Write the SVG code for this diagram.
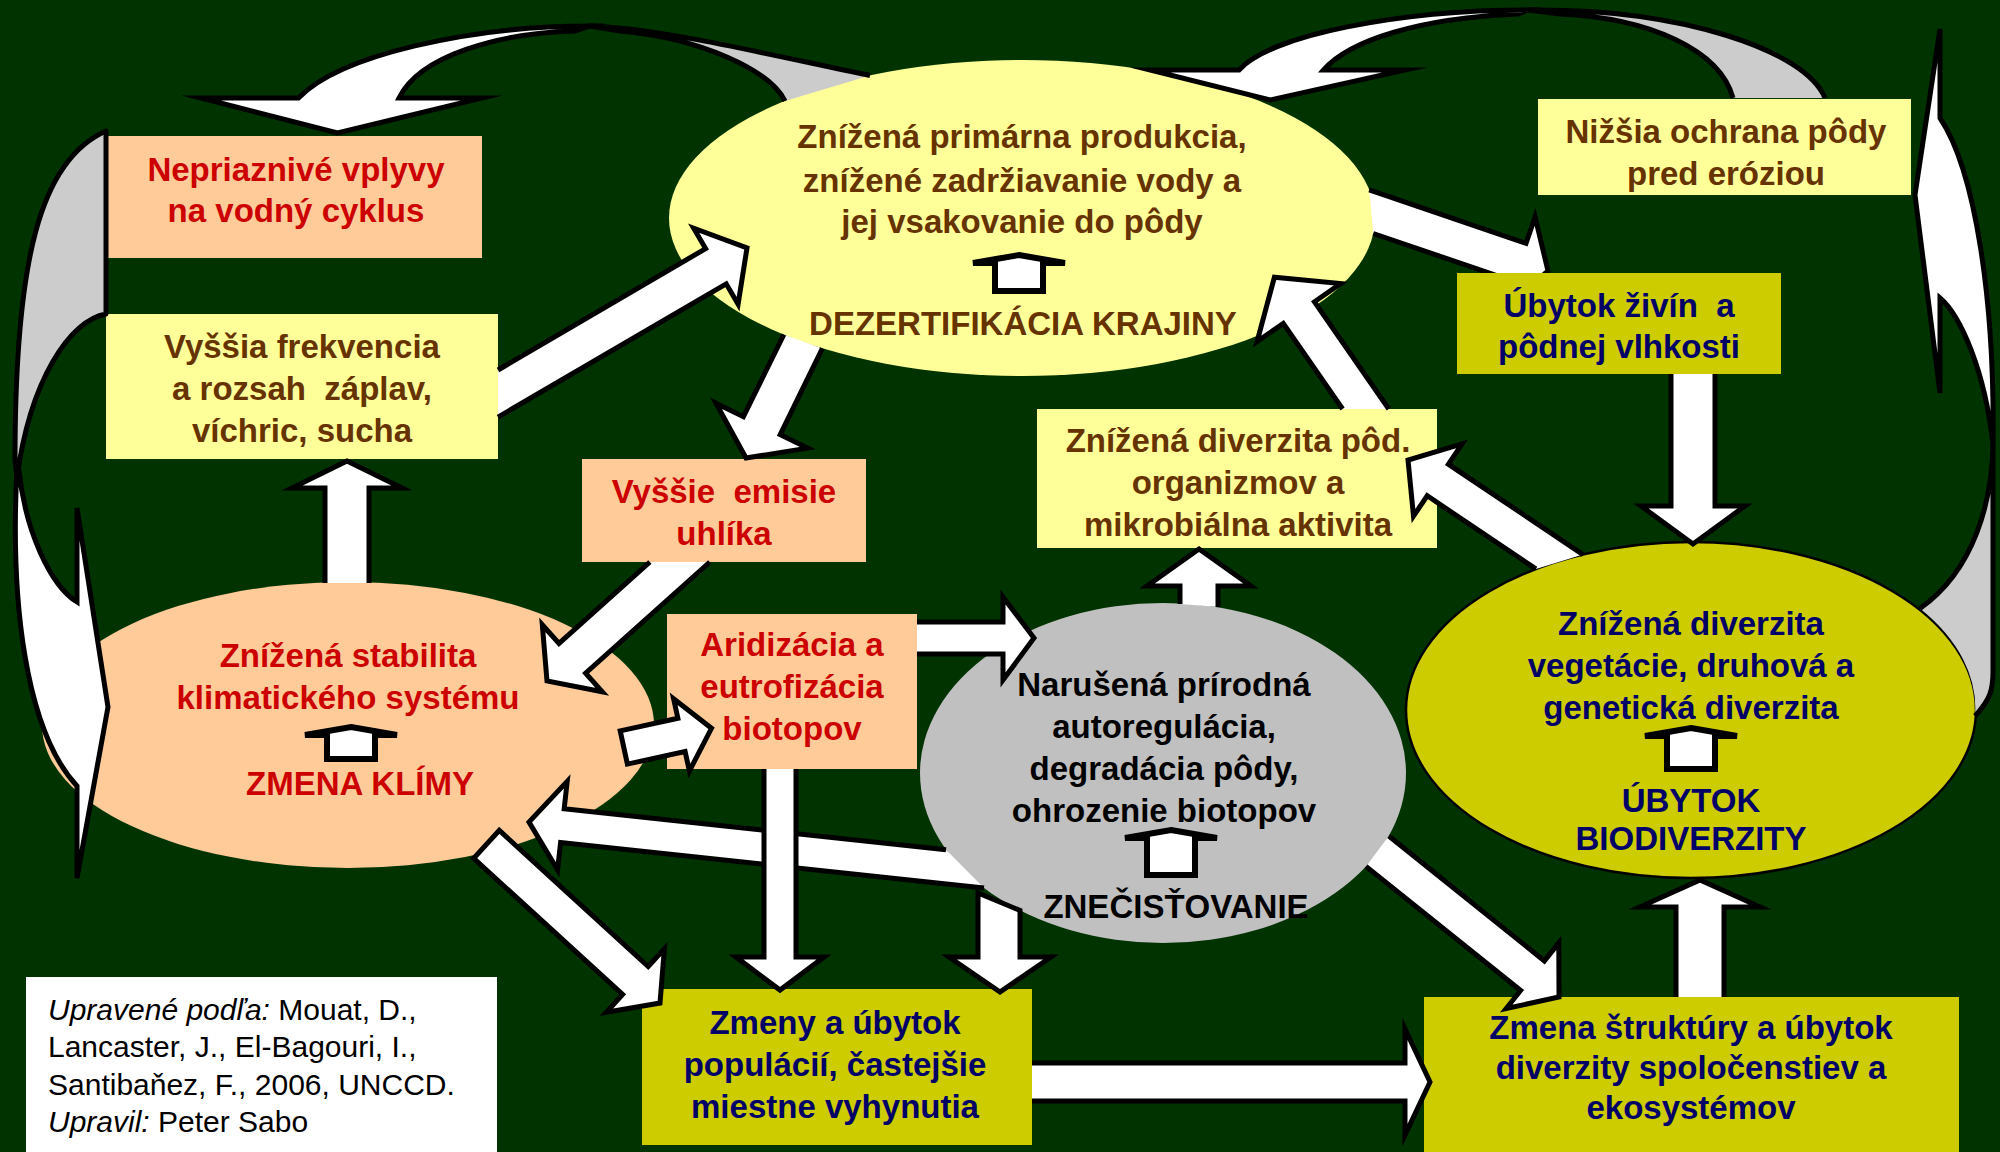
<svg xmlns="http://www.w3.org/2000/svg" width="2000" height="1152" viewBox="0 0 2000 1152">
<defs>
<style>
.t{font-family:"Liberation Sans",Arial,sans-serif;font-weight:bold;font-size:33px;text-anchor:middle}
.red{fill:#CC0000}.brown{fill:#663300}.navy{fill:#000066}.blk{fill:#000}
.cite{font-family:"Liberation Sans",Arial,sans-serif;font-size:30px;fill:#000}
.arr{fill:#fff;stroke:#000;stroke-width:5;stroke-linejoin:miter;stroke-miterlimit:10}
.bandfill{fill:#CCCCCC;stroke:none}
.band{fill:#CCCCCC;stroke:#000;stroke-width:5;stroke-linejoin:round}
.edge{fill:none;stroke:#000;stroke-width:5;stroke-linejoin:round}
.icon{fill:#fff;stroke:#000;stroke-width:6;stroke-linejoin:miter}
.peach{fill:#FFCC99}.lyel{fill:#FFFF99}.olive{fill:#CCCC00}
</style>
<clipPath id="clipR"><rect x="1300" y="0" width="400" height="273"/></clipPath>
</defs>
<rect x="0" y="0" width="2000" height="1152" fill="#003300"/>

<g id="node-nepriaznive">
<rect class="peach" x="108" y="136" width="374" height="122"/>
<text class="t red" x="296" y="181">Nepriaznivé vplyvy</text>
<text class="t red" x="296" y="222">na vodný cyklus</text>
</g>

<g id="node-vyssia-frekvencia">
<rect class="lyel" x="106" y="314" width="392" height="145"/>
<text class="t brown" x="302" y="358">Vyššia frekvencia</text>
<text class="t brown" x="302" y="400" xml:space="preserve">a rozsah  záplav,</text>
<text class="t brown" x="302" y="442">víchric, sucha</text>
</g>

<g id="node-dezertifikacia">
<ellipse class="lyel" cx="1022" cy="218" rx="353" ry="158"/>
<text class="t brown" x="1022" y="148">Znížená primárna produkcia,</text>
<text class="t brown" x="1022" y="192">znížené zadržiavanie vody a</text>
<text class="t brown" x="1022" y="233">jej vsakovanie do pôdy</text>
<path class="icon" transform="translate(1019,252)" d="M0,3 L46,11 L24,11 L24,39 L-24,39 L-24,11 L-46,11 Z"/>
<text class="t brown" x="1023" y="335">DEZERTIFIKÁCIA KRAJINY</text>
</g>

<g id="node-nizsia-ochrana">
<rect class="lyel" x="1538" y="99" width="373" height="96"/>
<text class="t brown" x="1726" y="143">Nižšia ochrana pôdy</text>
<text class="t brown" x="1726" y="185">pred eróziou</text>
</g>

<g id="node-ubytok-zivin">
<rect class="olive" x="1457" y="273" width="324" height="101"/>
<text class="t navy" x="1619" y="317" xml:space="preserve">Úbytok živín  a</text>
<text class="t navy" x="1619" y="358">pôdnej vlhkosti</text>
</g>

<g id="node-vyssie-emisie">
<rect class="peach" x="582" y="459" width="284" height="103"/>
<text class="t red" x="724" y="503" xml:space="preserve">Vyššie  emisie</text>
<text class="t red" x="724" y="545">uhlíka</text>
</g>

<g id="node-diverzita-pod">
<rect class="lyel" x="1037" y="409" width="400" height="139"/>
<text class="t brown" x="1238" y="452">Znížená diverzita pôd.</text>
<text class="t brown" x="1238" y="494">organizmov a</text>
<text class="t brown" x="1238" y="536">mikrobiálna aktivita</text>
</g>

<g id="node-zmena-klimy">
<ellipse class="peach" cx="348" cy="725" rx="306" ry="143"/>
<text class="t red" x="348" y="667">Znížená stabilita</text>
<text class="t red" x="348" y="709">klimatického systému</text>
<path class="icon" transform="translate(351,724)" d="M0,3 L46,11 L24,11 L24,35 L-24,35 L-24,11 L-46,11 Z"/>
<text class="t red" x="360" y="795">ZMENA KLÍMY</text>
</g>

<g id="node-aridizacia">
<rect class="peach" x="667" y="614" width="250" height="155"/>
<text class="t red" x="792" y="656">Aridizácia a</text>
<text class="t red" x="792" y="698">eutrofizácia</text>
<text class="t red" x="792" y="740">biotopov</text>
</g>

<g id="node-znecistovanie">
<ellipse cx="1163" cy="773" rx="243" ry="170" fill="#C0C0C0"/>
<text class="t blk" x="1164" y="696">Narušená prírodná</text>
<text class="t blk" x="1164" y="738">autoregulácia,</text>
<text class="t blk" x="1164" y="780">degradácia pôdy,</text>
<text class="t blk" x="1164" y="822">ohrozenie biotopov</text>
<path class="icon" transform="translate(1171,827)" d="M0,3 L46,11 L24,11 L24,48 L-24,48 L-24,11 L-46,11 Z"/>
<text class="t blk" x="1176" y="918">ZNEČISŤOVANIE</text>
</g>

<g id="node-ubytok-biodiverzity">
<ellipse class="olive" cx="1691" cy="710" rx="285" ry="168" stroke="#000" stroke-width="2.5"/>
<text class="t navy" x="1691" y="635">Znížená diverzita</text>
<text class="t navy" x="1691" y="677">vegetácie, druhová a</text>
<text class="t navy" x="1691" y="719">genetická diverzita</text>
<path class="icon" transform="translate(1691,725)" d="M0,3 L46,11 L24,11 L24,44 L-24,44 L-24,11 L-46,11 Z"/>
<text class="t navy" x="1691" y="812">ÚBYTOK</text>
<text class="t navy" x="1691" y="850">BIODIVERZITY</text>
</g>

<g id="node-zmeny-populacii">
<rect class="olive" x="642" y="989" width="390" height="156"/>
<text class="t navy" x="835" y="1034">Zmeny a úbytok</text>
<text class="t navy" x="835" y="1076">populácií, častejšie</text>
<text class="t navy" x="835" y="1118">miestne vyhynutia</text>
</g>

<g id="node-zmena-struktury">
<rect class="olive" x="1424" y="997" width="535" height="155"/>
<text class="t navy" x="1691" y="1039">Zmena štruktúry a úbytok</text>
<text class="t navy" x="1691" y="1079">diverzity spoločenstiev a</text>
<text class="t navy" x="1691" y="1119">ekosystémov</text>
</g>

<g id="citation">
<rect x="26" y="977" width="471" height="175" fill="#fff"/>
<text class="cite" x="48" y="1020"><tspan font-style="italic">Upravené podľa:</tspan> Mouat, D.,</text>
<text class="cite" x="48" y="1057">Lancaster, J., El-Bagouri, I.,</text>
<text class="cite" x="48" y="1095">Santibaňez, F., 2006, UNCCD.</text>
<text class="cite" x="48" y="1132"><tspan font-style="italic">Upravil:</tspan> Peter Sabo</text>
</g>

<g id="connectors">
<!-- curved 3D arrows: back (gray) bands -->
<path class="band" d="M870,75.5 C770,55 660,28 590,26 L620,31 C700,38 770,70 785,101"/>
<path class="band" d="M1825,98 C1805,50 1680,8 1528,10 L1560,14 C1650,18 1720,50 1733,98"/>
<path class="band" d="M106,131 C40,160 15,260 15,460 L17,478 C30,380 70,320 106,314 Z"/>
<path class="bandfill" d="M1993,445 L1993,672 C1993,690 1990,700 1975,716 A285,168 0 0 0 1920,608.5 C1975,570 1992,500 1993,445 Z"/>
<path class="edge" d="M1975,716 C1990,700 1993,690 1993,672 L1993,445 C1992,500 1975,570 1920,608.5"/>
<!-- curved 3D arrows: front (white) bands with heads -->
<path class="arr" d="M201,98 L298.5,98 C340,55 470,26 590,26 L575,31 C500,33 420,55 399,98 L482,98 L337.5,133 Z"/>
<path class="arr" d="M1150,70 L1239,70 C1270,35 1400,10 1528,10 L1518,14 C1420,18 1350,40 1323.5,70 L1405,70 L1270,100 Z"/>
<path class="arr" d="M17,468 C10,600 25,730 77,786 L77,878 L108,707 L77,508 L77,602 C50,585 25,530 19,470 Z"/>
<path class="arr" d="M1940,29 L1915,195 L1940,393 L1940,298 C1960,315 1985,370 1993,445 C1995,300 1975,170 1940,118 Z"/>
<!-- straight block arrows -->
<path class="arr" d="M498,370 L705.6,248.6 L693.7,228.2 L747,248 L738.1,304.2 L726.2,283.8 L498,417.1"/>
<path class="arr" d="M783.9,334.5 L743.4,416.7 L716,403.3 L746,458 L807.6,448.1 L780.2,434.7 L822.4,348.4"/>
<path class="arr" d="M649.9,562 L559,643.4 L542.3,624.8 L547,681 L602.3,691.8 L585.6,673.2 L709.8,562"/>
<path class="arr" d="M325,583 V488 H292 L347,461 L402,488 H369 V583"/>
<path class="arr" d="M620.2,730.9 L677.9,718.3 L673.6,698.8 L711.5,728.3 L689.4,771 L685.1,751.5 L627.4,764.1 Z"/>
<path class="arr" d="M917,622 H1003 V597 L1034,638 L1003,680 V654 H917"/>
<path class="arr" d="M946,849.8 L564.2,808.7 L567.2,781.4 L529,822 L557.6,869.8 L560.6,842.5 L984,888"/>
<path class="arr" d="M764,769 V957 H736 L780,990 L824,957 H796 V769"/>
<path class="arr" d="M499.3,830.4 L648.2,966.5 L664.4,948.8 L660,1003 L606.4,1012.2 L622.6,994.5 L473.7,858.4 Z"/>
<path class="arr" d="M978,893 V957 H949 L1000,992 L1051,957 H1020 V910.5 Z"/>
<path class="arr" d="M1180,604 V586 H1147 L1199,549 L1251,586 H1218 V607"/>
<path class="arr" d="M1388.8,836 L1544.4,960.9 L1558.8,942.9 L1559,997 L1506.2,1008.5 L1520.6,990.5 L1366,866.4"/>
<path class="arr" d="M1032,1063 H1405 V1029 L1430,1082 L1405,1135 V1101 H1032"/>
<path class="arr" d="M1676,997 V907 H1640 L1700,880 L1760,907 H1724 V997"/>
<path class="arr" d="M1671,374 V506 H1641 L1693,544 L1745,506 H1715 V374"/>
<path class="arr" d="M1583,554.6 L1448.4,464.2 L1462.1,443.9 L1408,460 L1413.5,516.1 L1427.2,495.8 L1535.9,568.9"/>
<path class="arr" d="M1342.6,409 L1283.3,323.4 L1257.1,341.6 L1274.4,277.3 L1340.7,283.6 L1314.5,301.8 L1388.8,409"/>
<path class="arr" clip-path="url(#clipR)" d="M1369.2,189.8 L1526,243.4 L1535.1,216.9 L1548,271 L1504.1,307.7 L1513.1,281.2 L1373.3,233.5"/>
</g>
</svg>
